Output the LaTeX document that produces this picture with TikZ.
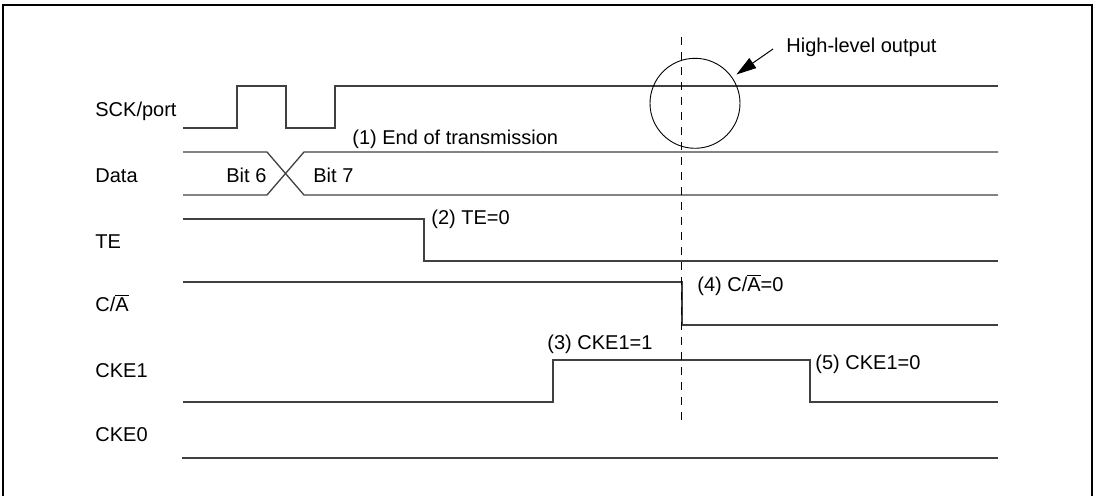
\documentclass[tikz,border=0pt]{standalone}
\usepackage{fontspec}
\setmainfont{Liberation Sans}
\usetikzlibrary{arrows.meta}
\newcommand{\nbar}[1]{\ensuremath{\overline{\mbox{#1}}}}

\begin{document}
\begin{tikzpicture}[
  x=0.5pt, y=-0.5pt,
  every node/.style={inner sep=0pt, font=\fontsize{10}{12}\selectfont},
  lbl/.style={anchor=base west},
  sig/.style={line width=0.65pt, black!75},
  arrow/.style={-{Triangle[length=10pt,width=6pt]}, line width=0.5pt}
]
\useasboundingbox (0,0) rectangle (1098,496);
\draw[line width=0.6pt] (3,496) -- (3,5) -- (1092,5) -- (1092,496);

% signal names
\node[lbl] (sck) at (95,117) {SCK/port};
\node[lbl] (data) at (95,183) {Data};
\node[lbl] (te) at (95,249) {TE};
\node[lbl] (ca) at (95,312) {C/\nbar{A}};
\node[lbl] (ckeone) at (95,378) {CKE1};
\node[lbl] (ckezero) at (95,442) {CKE0};

% waveforms
\draw[sig] (183,128) -- (237,128) -- (237,86) -- (286,86) -- (286,128)
  -- (335,128) -- (335,86) -- (998,86);
\draw[sig] (183,152) -- (267,152) -- (304,195) -- (998,195);
\draw[sig] (183,195) -- (267,195) -- (304,152) -- (998,152);
\draw[sig] (183,219) -- (424,219) -- (424,261) -- (998,261);
\draw[sig] (183,282) -- (682,282) -- (682,325) -- (998,325);
\draw[sig] (183,402) -- (553,402) -- (553,360) -- (810,360) -- (810,402) -- (998,402);
\draw[sig] (182,458) -- (998,458);

\node[lbl] (bitsix) at (226,183) {Bit 6};
\node[lbl] (bitseven) at (313,183) {Bit 7};

% events
\node[lbl] (n1) at (352,145) {(1) End of transmission};
\node[lbl] (n2) at (431,225) {(2) TE=0};
\node[lbl] (n3) at (547,350) {(3) CKE1=1};
\node[lbl] (n4) at (697,292) {(4) C/\nbar{A}=0};
\node[lbl] (n5) at (815,370) {(5) CKE1=0};

\draw[dash pattern=on 4pt off 3.5pt, line width=0.5pt] (681.5,37) -- (681.5,423);

% high-level output mark
\node[draw, circle, minimum size=45pt, line width=0.45pt] (ring) at (695,103.3) {};
\node[lbl] (hlo) at (786,53) {High-level output};
\coordinate (tail) at (773,49);
\draw[arrow, shorten >=2.5pt] (tail) -- (ring);
\end{tikzpicture}
\end{document}
